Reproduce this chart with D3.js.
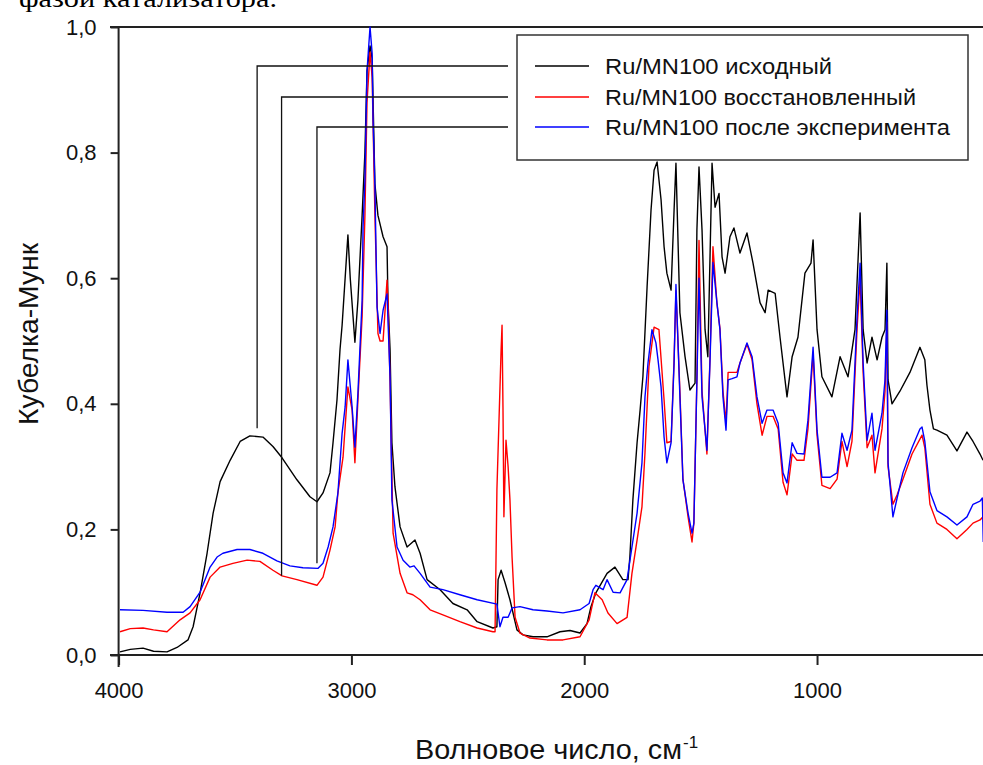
<!DOCTYPE html>
<html>

<head>
    <meta charset="UTF-8">
    <title>Кубелка-Мунк</title>
    <script src="https://d3js.org/d3.v7.min.js"></script>
    <style>
        body { margin: 0; background: #fff; }
        svg { display: block; font-family: Arial, "Liberation Sans", sans-serif; }
    </style>
</head>

<body>
    <svg id="chart"></svg>

    <script type="text/javascript">
        /****** DATA (wavenumber, Kubelka-Munk) ******/
        const ishodny = [
            [3994, 0.005], [3950, 0.009], [3895, 0.011], [3850, 0.006], [3792, 0.005], [3749, 0.012],
            [3702, 0.024], [3680, 0.045], [3650, 0.099], [3620, 0.162], [3594, 0.226], [3564, 0.276],
            [3521, 0.31], [3478, 0.34], [3436, 0.349], [3380, 0.347], [3337, 0.332], [3298, 0.314],
            [3234, 0.279], [3178, 0.252], [3148, 0.244], [3122, 0.258], [3092, 0.29], [3079, 0.338],
            [3062, 0.406], [3049, 0.486], [3040, 0.525], [3027, 0.6], [3015, 0.669], [3005, 0.6],
            [2985, 0.498], [2972, 0.565], [2954, 0.7], [2942, 0.8], [2933, 0.93], [2920, 0.97],
            [2911, 0.95], [2899, 0.75], [2886, 0.70], [2864, 0.666], [2847, 0.65], [2843, 0.565],
            [2834, 0.486], [2826, 0.338], [2813, 0.268], [2791, 0.204], [2761, 0.172], [2727, 0.183],
            [2705, 0.162], [2675, 0.12], [2619, 0.104], [2564, 0.082], [2503, 0.072], [2460, 0.053],
            [2392, 0.043], [2375, 0.045], [2370, 0.12], [2357, 0.135], [2340, 0.115], [2319, 0.088],
            [2289, 0.04], [2263, 0.032], [2220, 0.029], [2160, 0.029], [2104, 0.037], [2061, 0.039],
            [2018, 0.035], [1988, 0.05], [1971, 0.077], [1950, 0.099], [1902, 0.13], [1868, 0.14],
            [1834, 0.12], [1812, 0.12], [1804, 0.156], [1791, 0.247], [1773, 0.338], [1760, 0.39],
            [1748, 0.443], [1730, 0.586], [1713, 0.709], [1700, 0.772], [1687, 0.785], [1670, 0.725],
            [1657, 0.65], [1645, 0.608], [1627, 0.581], [1614, 0.709], [1606, 0.783], [1589, 0.545],
            [1567, 0.475], [1546, 0.422], [1524, 0.433], [1516, 0.677], [1507, 0.777], [1494, 0.677],
            [1481, 0.518], [1469, 0.475], [1451, 0.783], [1438, 0.713], [1421, 0.735], [1408, 0.634],
            [1395, 0.608], [1374, 0.666], [1357, 0.68], [1331, 0.64], [1301, 0.672], [1275, 0.624],
            [1245, 0.561], [1223, 0.545], [1210, 0.581], [1180, 0.576], [1159, 0.506], [1129, 0.411],
            [1107, 0.475], [1082, 0.506], [1052, 0.608], [1026, 0.624], [1017, 0.661], [1000, 0.518],
            [979, 0.443], [936, 0.411], [901, 0.475], [867, 0.443], [837, 0.518], [815, 0.704],
            [802, 0.518], [785, 0.465], [764, 0.506], [742, 0.47], [721, 0.506], [708, 0.518],
            [700, 0.624], [695, 0.438], [678, 0.40], [644, 0.42], [601, 0.45], [558, 0.49],
            [537, 0.47], [528, 0.43], [515, 0.39], [500, 0.36], [485, 0.358], [442, 0.35],
            [399, 0.325], [356, 0.355], [330, 0.34], [300, 0.32], [287, 0.31]
        ];

        const vosstanovl = [
            [3994, 0.037], [3950, 0.042], [3895, 0.043], [3850, 0.04], [3792, 0.037], [3736, 0.056],
            [3693, 0.067], [3650, 0.088], [3607, 0.124], [3564, 0.14], [3509, 0.146], [3448, 0.151],
            [3393, 0.149], [3337, 0.135], [3298, 0.126], [3234, 0.12], [3148, 0.111], [3122, 0.124],
            [3092, 0.167], [3070, 0.204], [3058, 0.258], [3036, 0.315], [3015, 0.427], [2997, 0.39],
            [2985, 0.306], [2972, 0.406], [2954, 0.539], [2942, 0.7], [2933, 0.88], [2920, 0.96],
            [2911, 0.92], [2899, 0.7], [2886, 0.512], [2877, 0.5], [2864, 0.5], [2847, 0.597],
            [2843, 0.565], [2834, 0.433], [2821, 0.194], [2791, 0.13], [2761, 0.099], [2736, 0.096],
            [2705, 0.088], [2662, 0.072], [2607, 0.064], [2534, 0.053], [2460, 0.043], [2392, 0.037],
            [2383, 0.037], [2375, 0.263], [2357, 0.486], [2353, 0.525], [2349, 0.395], [2345, 0.22],
            [2336, 0.342], [2327, 0.30], [2319, 0.247], [2310, 0.156], [2297, 0.06], [2276, 0.035],
            [2233, 0.027], [2160, 0.024], [2091, 0.024], [2018, 0.029], [1979, 0.056], [1954, 0.099],
            [1923, 0.088], [1898, 0.067], [1859, 0.05], [1816, 0.06], [1795, 0.13], [1773, 0.183],
            [1752, 0.236], [1739, 0.322], [1722, 0.459], [1700, 0.522], [1679, 0.518], [1657, 0.406],
            [1645, 0.338], [1627, 0.34], [1614, 0.47], [1606, 0.58], [1589, 0.42], [1576, 0.28],
            [1554, 0.22], [1537, 0.18], [1529, 0.21], [1516, 0.44], [1507, 0.66], [1494, 0.42],
            [1473, 0.32], [1460, 0.47], [1447, 0.65], [1430, 0.56], [1417, 0.52], [1404, 0.42],
            [1391, 0.37], [1382, 0.45], [1365, 0.45], [1344, 0.45], [1331, 0.465], [1301, 0.495],
            [1279, 0.47], [1258, 0.40], [1236, 0.35], [1215, 0.38], [1189, 0.38], [1167, 0.36],
            [1146, 0.275], [1129, 0.255], [1107, 0.32], [1086, 0.31], [1056, 0.31], [1039, 0.36],
            [1017, 0.48], [1000, 0.35], [979, 0.27], [944, 0.265], [914, 0.28], [893, 0.34],
            [871, 0.30], [850, 0.34], [828, 0.52], [815, 0.60], [802, 0.45], [785, 0.33],
            [764, 0.35], [751, 0.29], [721, 0.36], [708, 0.42], [700, 0.53], [695, 0.30],
            [674, 0.24], [656, 0.255], [631, 0.28], [592, 0.32], [549, 0.35], [537, 0.33],
            [515, 0.24], [485, 0.21], [442, 0.2], [399, 0.185], [356, 0.2], [330, 0.21],
            [300, 0.215], [287, 0.22]
        ];

        const posleExp = [
            [3994, 0.072], [3895, 0.071], [3792, 0.068], [3723, 0.068], [3693, 0.077], [3650, 0.10],
            [3607, 0.14], [3577, 0.156], [3552, 0.162], [3491, 0.168], [3436, 0.168], [3380, 0.162],
            [3320, 0.15], [3264, 0.142], [3208, 0.139], [3143, 0.138], [3122, 0.146], [3100, 0.172],
            [3079, 0.204], [3058, 0.258], [3040, 0.353], [3027, 0.395], [3015, 0.47], [2997, 0.395],
            [2985, 0.331], [2972, 0.417], [2954, 0.565], [2950, 0.682], [2942, 0.756], [2933, 0.93],
            [2920, 1.0], [2911, 0.958], [2907, 0.852], [2899, 0.745], [2890, 0.554], [2877, 0.512],
            [2864, 0.549], [2847, 0.575], [2834, 0.443], [2826, 0.247], [2804, 0.172], [2778, 0.151],
            [2749, 0.14], [2731, 0.142], [2705, 0.13], [2662, 0.108], [2607, 0.104], [2534, 0.096],
            [2460, 0.088], [2375, 0.081], [2362, 0.045], [2349, 0.06], [2327, 0.06], [2310, 0.075],
            [2276, 0.077], [2220, 0.072], [2160, 0.07], [2091, 0.067], [2018, 0.072], [1979, 0.082],
            [1962, 0.104], [1950, 0.111], [1919, 0.104], [1902, 0.12], [1876, 0.10], [1846, 0.099],
            [1816, 0.12], [1795, 0.172], [1773, 0.226], [1752, 0.306], [1739, 0.411], [1726, 0.465],
            [1709, 0.518], [1692, 0.497], [1683, 0.47], [1670, 0.427], [1657, 0.347], [1645, 0.306],
            [1627, 0.338], [1614, 0.465], [1606, 0.59], [1589, 0.411], [1576, 0.279], [1554, 0.226],
            [1537, 0.194], [1529, 0.21], [1516, 0.438], [1507, 0.60], [1494, 0.411], [1473, 0.326],
            [1460, 0.465], [1447, 0.625], [1430, 0.561], [1417, 0.518], [1404, 0.411], [1391, 0.358],
            [1382, 0.438], [1365, 0.44], [1344, 0.443], [1331, 0.465], [1301, 0.497], [1279, 0.475],
            [1258, 0.411], [1236, 0.369], [1215, 0.39], [1189, 0.39], [1167, 0.369], [1146, 0.29],
            [1129, 0.274], [1107, 0.338], [1086, 0.321], [1056, 0.32], [1039, 0.374], [1017, 0.49],
            [1000, 0.358], [979, 0.283], [944, 0.283], [914, 0.29], [893, 0.353], [871, 0.326],
            [850, 0.358], [828, 0.539], [815, 0.624], [802, 0.465], [785, 0.342], [764, 0.385],
            [751, 0.326], [721, 0.385], [708, 0.438], [700, 0.549], [695, 0.306], [674, 0.22],
            [656, 0.25], [631, 0.29], [592, 0.33], [558, 0.36], [549, 0.363], [537, 0.34],
            [515, 0.26], [485, 0.23], [442, 0.22], [399, 0.207], [356, 0.22], [330, 0.24],
            [300, 0.245], [290, 0.25], [286, 0.18]
        ];

        const seriesNames = ["Ru/MN100 исходный", "Ru/MN100 восстановленный", "Ru/MN100 после эксперимента"];
        const seriesColors = ["#000000", "#ff0000", "#0000ff"];
        const xTicks = [4000, 3000, 2000, 1000];
        const yTicks = [0, 0.2, 0.4, 0.6, 0.8, 1.0];
        // points where the leader lines touch each curve
        const leaderWn = [3405, 3300, 3148];
        const leaderVal = [0.361, 0.126, 0.146];

        /****** CHART ******/
        const width = 983,
            height = 765;

        const svg = d3.select("#chart")
            .attr("width", width)
            .attr("height", height);

        svg.append("rect").attr("width", width).attr("height", height).attr("fill", "#fff");

        // cut-off line of the document text above the chart
        svg.append("text")
            .attr("x", 19)
            .attr("y", 7)
            .attr("font-family", "'Liberation Serif', 'DejaVu Serif', serif")
            .attr("font-size", 26)
            .attr("textLength", 258)
            .attr("lengthAdjust", "spacingAndGlyphs")
            .text("фазой катализатора.");

        const x = d3.scaleLinear().domain([4000, 285]).range([118.6, 983.5]);
        const y = d3.scaleLinear().domain([0, 1]).range([655, 27]);

        // top frame line
        svg.append("line")
            .attr("x1", 110).attr("x2", width)
            .attr("y1", y(1)).attr("y2", y(1))
            .attr("stroke", "#222").attr("stroke-width", 2);

        // clip for the spectra
        svg.append("clipPath").attr("id", "plotclip")
            .append("rect")
            .attr("x", x(4000)).attr("y", 0)
            .attr("width", width - x(4000)).attr("height", y(0));

        const line = d3.line()
            .x(d => x(d[0]))
            .y(d => y(d[1]));

        const allSeries = [ishodny, vosstanovl, posleExp];

        const plot = svg.append("g").attr("clip-path", "url(#plotclip)");
        allSeries.forEach((s, i) => {
            plot.append("path")
                .datum(s)
                .attr("fill", "none")
                .attr("stroke", seriesColors[i])
                .attr("stroke-width", 1.4)
                .attr("stroke-linejoin", "round")
                .attr("d", line);
        });

        // axes
        const commaFmt = d => d3.format(".1f")(d).replace(".", ",");

        const leftAxis = d3.axisLeft(y)
            .tickValues(yTicks)
            .tickFormat(commaFmt)
            .tickSize(8)
            .tickPadding(14);

        const bottomAxis = d3.axisBottom(x)
            .tickValues(xTicks)
            .tickFormat(d3.format("d"))
            .tickSize(10)
            .tickPadding(17);

        const gy = svg.append("g")
            .attr("transform", "translate(" + x(4000) + ",0)")
            .call(leftAxis);

        const gx = svg.append("g")
            .attr("transform", "translate(0," + y(0) + ")")
            .call(bottomAxis);

        [gx, gy].forEach(g => {
            g.select(".domain").attr("stroke", "#222").attr("stroke-width", 2);
            g.selectAll(".tick line").attr("stroke", "#222").attr("stroke-width", 2);
            g.selectAll(".tick text")
                .attr("font-size", 22)
                .attr("font-family", "Arial, 'Liberation Sans', sans-serif")
                .attr("fill", "#111");
        });
        gx.select(".domain").attr("d", "M110,0H" + width);
        gy.select(".domain").attr("d", "M0," + (y(1) - 1) + "V" + (y(0) + 12));

        // axis titles
        svg.append("text")
            .attr("transform", "translate(38,334) rotate(-90)")
            .attr("text-anchor", "middle")
            .attr("font-size", 27)
            .attr("textLength", 182)
            .attr("lengthAdjust", "spacingAndGlyphs")
            .attr("fill", "#111")
            .text("Кубелка-Мунк");

        const xt = svg.append("text")
            .attr("x", 415)
            .attr("y", 759)
            .attr("font-size", 28)
            .attr("fill", "#111");
        xt.append("tspan")
            .attr("textLength", 267)
            .attr("lengthAdjust", "spacingAndGlyphs")
            .text("Волновое число, см");
        xt.append("tspan")
            .attr("x", 683)
            .attr("y", 748)
            .attr("font-size", 17)
            .text("-1");

        // legend
        const legendRows = [66, 97, 127];
        const legendLens = [227, 311, 345];
        const legend = svg.append("g");
        legend.append("rect")
            .attr("x", 517).attr("y", 35)
            .attr("width", 451).attr("height", 125)
            .attr("fill", "#fff")
            .attr("stroke", "#333")
            .attr("stroke-width", 1.5);

        seriesNames.forEach((name, i) => {
            legend.append("line")
                .attr("x1", 535).attr("x2", 589)
                .attr("y1", legendRows[i]).attr("y2", legendRows[i])
                .attr("stroke", seriesColors[i])
                .attr("stroke-width", 1.4);
            legend.append("text")
                .attr("x", 605)
                .attr("y", legendRows[i] + 8)
                .attr("font-size", 22)
                .attr("textLength", legendLens[i])
                .attr("lengthAdjust", "spacingAndGlyphs")
                .attr("fill", "#111")
                .text(name);
        });

        // leader lines from curves to legend
        leaderWn.forEach((w, i) => {
            svg.append("path")
                .attr("fill", "none")
                .attr("stroke", "#111")
                .attr("stroke-width", 1.3)
                .attr("d", "M" + x(w) + "," + y(leaderVal[i]) +
                    "V" + legendRows[i] + "H508");
        });
    </script>
</body>

</html>
